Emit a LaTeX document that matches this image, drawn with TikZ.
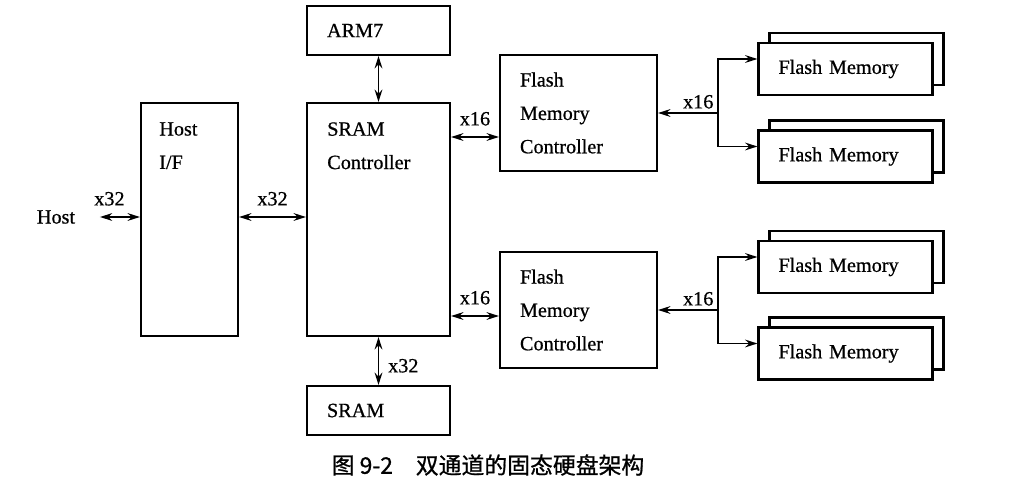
\documentclass[tikz,border=0pt]{standalone}
\usepackage{fontspec}
\setmainfont{Liberation Serif}[FakeBold=0.7]
\newfontfamily\cjk{Noto Sans CJK SC}[FakeBold=0.8]
\usepackage{tikz}
\usetikzlibrary{arrows.meta, positioning}

\begin{document}
\begin{tikzpicture}[
    box/.style={rectangle, draw=black, fill=white, line width=1.2pt, align=left,
                inner xsep=0.4cm, font=\fontsize{11.5}{19}\selectfont},
    flash/.style={box, text width=2.68cm, minimum height=1.04cm},
    flashback/.style={box, minimum width=3.48cm, minimum height=1.04cm},
    txt/.style={align=left, inner sep=0pt, font=\fontsize{11.5}{19}\selectfont},
    lbl/.style={font=\fontsize{11.5}{14}\selectfont, inner sep=2pt},
    link/.style={{Stealth[length=7pt,width=4.4pt]}-{Stealth[length=7pt,width=4.4pt]}, line width=1pt},
    feed/.style={-{Stealth[length=7pt,width=4.4pt]}, line width=1pt}
]
    \useasboundingbox (0,0) rectangle (20.32,-9.68);

    % host side
    \node[lbl] (host) at (1.12,-4.34) {Host};
    \node[box, minimum width=1.94cm, minimum height=4.66cm] (hostif) at (3.79,-4.39) {};
    \node[txt, below right=0.4cm and 0.38cm of hostif.north west] (hostiftxt) {Host\\I/F};

    % controller and its memories
    \node[box, minimum width=2.86cm, minimum height=4.66cm] (sramctrl) at (7.57,-4.39) {};
    \node[txt, below right=0.4cm and 0.42cm of sramctrl.north west] (sramctrltxt) {SRAM\\Controller};
    \node[box, text width=2.06cm, minimum height=0.98cm] (arm7) at (7.57,-0.61) {ARM7};
    \node[box, text width=2.06cm, minimum height=0.98cm] (sram) at (7.57,-8.21) {SRAM};

    % two channels
    \node[box, text width=2.34cm, minimum height=2.32cm] (fmcA) at (11.57,-2.26) {Flash\\Memory\\Controller};
    \node[box, text width=2.34cm, minimum height=2.32cm] (fmcB) at (11.57,-6.20) {Flash\\Memory\\Controller};

    % stacked flash chips: back copy first
    \node[flashback] (flashA1b) at (17.13,-1.18) {};
    \node[flash] (flashA1) at (16.91,-1.38) {Flash Memory};
    \node[flashback] (flashA2b) at (17.13,-2.93) {};
    \node[flash] (flashA2) at (16.91,-3.13) {Flash Memory};
    \node[flashback] (flashB1b) at (17.13,-5.14) {};
    \node[flash] (flashB1) at (16.91,-5.34) {Flash Memory};
    \node[flashback] (flashB2b) at (17.13,-6.87) {};
    \node[flash] (flashB2) at (16.91,-7.07) {Flash Memory};

    % buses
    \draw[link, shorten <=0.42cm] (host.east) -- (host.east -| hostif.west)
        node[lbl, above=4pt, midway] (l32a) {x32};
    \draw[link] (hostif.east |- host) -- (sramctrl.west |- host)
        node[lbl, above=4pt, midway] (l32b) {x32};
    \draw[link] (arm7) -- (sramctrl);
    \draw[link] (sramctrl) -- (sram) node[lbl, right=3pt, pos=0.6] (l32c) {x32};

    \coordinate (busA) at ([yshift=-0.48cm]fmcA.west);
    \coordinate (busB) at ([yshift=-0.12cm]fmcB.west);
    \draw[link] (sramctrl.east |- busA) -- (busA) node[lbl, above=4pt, midway] (l16a) {x16};
    \draw[link] (sramctrl.east |- busB) -- (busB) node[lbl, above=4pt, midway] (l16b) {x16};

    \coordinate (forkA) at ([xshift=1.2cm]fmcA.east);
    \coordinate (forkB) at ([xshift=1.2cm]fmcB.east);
    \draw[feed] (forkA) -- (fmcA.east) node[lbl, above, pos=0.33] (l16c) {x16};
    \draw[feed] (forkA) |- (flashA1.west |- flashA1b);
    \draw[feed] (forkA) |- (flashA2.west |- flashA2b);
    \draw[feed] (forkB) -- (fmcB.east) node[lbl, above, pos=0.33] (l16d) {x16};
    \draw[feed] (forkB) |- (flashB1.west |- flashB1b);
    \draw[feed] (forkB) |- (flashB2.west |- flashB2b);

    \node[font=\cjk\fontsize{13}{15}\selectfont] (caption) at (9.76,-9.30)
        {图 9-2\quad 双通道的固态硬盘架构};
\end{tikzpicture}
\end{document}
